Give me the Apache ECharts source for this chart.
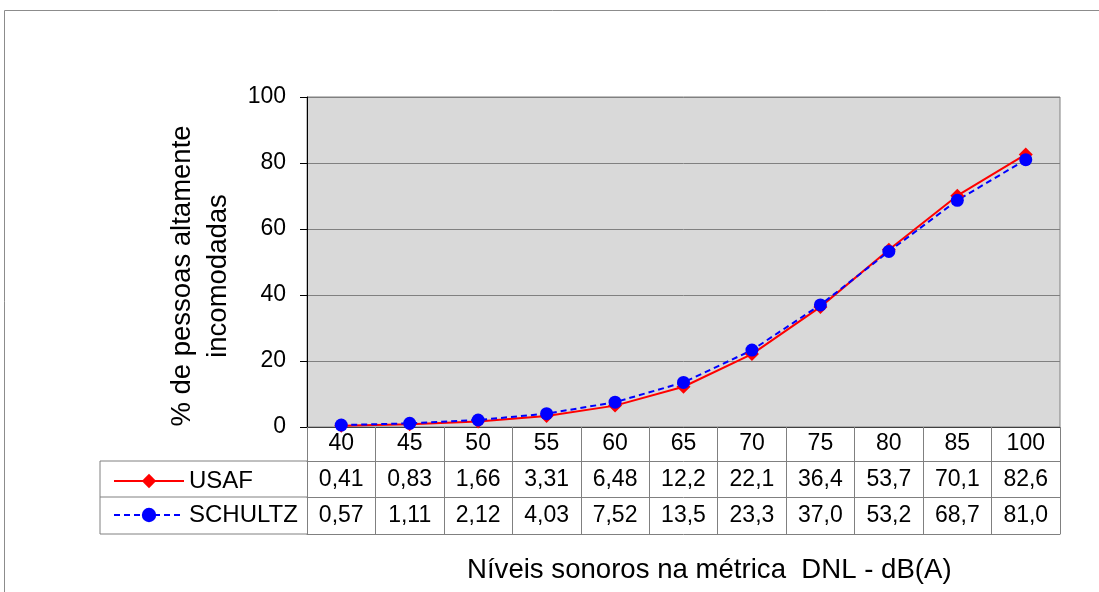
<!DOCTYPE html>
<html><head><meta charset="utf-8">
<script src="https://cdn.jsdelivr.net/npm/echarts@6/dist/echarts.min.js"></script>
<style>html,body{margin:0;padding:0;background:#fff}#c{width:1099px;height:592px}</style>
</head><body><div id="c"></div>
<script>
const categories = ['40','45','50','55','60','65','70','75','80','85','100'];
const usaf = [0.41,0.83,1.66,3.31,6.48,12.2,22.1,36.4,53.7,70.1,82.6];
const schultz = [0.57,1.11,2.12,4.03,7.52,13.5,23.3,37.0,53.2,68.7,81.0];
const yTicks = [0,20,40,60,80,100];

const FONT = '"Liberation Sans", Arial, sans-serif';
const fmt = v => (v < 10 ? v.toFixed(2) : v.toFixed(1)).replace('.', ',');

const L = 307, R = 1060, T = 97, B = 427;
const rows = [34, 70, 107];
const FS = 23;
const chart = echarts.init(document.getElementById('c'));

function tableAxis(offset, arr) {
  return {
    type: 'category', data: categories, position: 'bottom', offset: offset,
    axisLine: {show: true, lineStyle: {color: '#808080', width: 1}},
    axisTick: {show: false},
    axisLabel: arr ? {show: true, interval: 0, margin: 7, fontSize: FS, color: '#000', fontFamily: FONT,
      formatter: (v, i) => fmt(arr[i])} : {show: false},
    splitLine: {show: false}
  };
}

chart.setOption({
  animation: false,
  textStyle: {fontFamily: FONT},
  grid: {left: L, right: 1099 - R, top: T, bottom: 592 - B, show: true,
    backgroundColor: '#d9d9d9', borderColor: '#808080', borderWidth: 1},
  title: {text: 'Níveis sonoros na métrica  DNL - dB(A)', left: 462, top: 551,
    textStyle: {fontSize: 27.6, fontWeight: 'normal', color: '#000', fontFamily: FONT}},
  legend: {orient: 'vertical', left: 108, top: 464, itemWidth: 70, itemHeight: 18, itemGap: 10,
    textStyle: {fontSize: 24, color: '#000', fontFamily: FONT, lineHeight: 24},
    data: ['USAF', 'SCHULTZ']},
  xAxis: [
    {type: 'category', data: categories, position: 'bottom',
      axisLine: {show: true, lineStyle: {color: '#404040', width: 1}},
      axisTick: {show: true, interval: 0, length: rows[2], lineStyle: {color: '#808080'}},
      axisLabel: {interval: 0, margin: 5, fontSize: FS, color: '#000', fontFamily: FONT},
      splitLine: {show: false}},
    tableAxis(rows[0], usaf),
    tableAxis(rows[1], schultz),
    tableAxis(rows[2], null)
  ],
  yAxis: {type: 'value', min: yTicks[0], max: yTicks[yTicks.length - 1], interval: 20,
    name: '% de pessoas altamente\nincomodadas', nameLocation: 'middle', nameGap: 58,
    nameTextStyle: {fontSize: 27.5, color: '#000', fontFamily: FONT, lineHeight: 36, align: 'center', padding: [0, 28, 0, 0]},
    axisLine: {show: true, lineStyle: {color: '#000', width: 1}},
    axisTick: {show: true, length: 7, lineStyle: {color: '#000'}},
    axisLabel: {margin: 21, fontSize: FS, color: '#000', fontFamily: FONT},
    splitLine: {show: true, lineStyle: {color: '#808080', width: 1}}},
  series: [
    {name: 'USAF', type: 'line', data: usaf, symbol: 'diamond', symbolSize: 14,
      lineStyle: {color: '#ff0000', width: 2}, itemStyle: {color: '#ff0000'}},
    {name: 'SCHULTZ', type: 'line', data: schultz, symbol: 'circle', symbolSize: 13,
      lineStyle: {color: '#0000ff', width: 2, type: [6, 4]}, itemStyle: {color: '#0000ff'}}
  ],
  graphic: [
    {type: 'rect', shape: {x: 4.5, y: 10.5, width: 1300, height: 700}, style: {fill: 'none', stroke: '#8c8c8c', lineWidth: 1}, silent: true},
    {type: 'line', shape: {x1: 100, y1: B + rows[0], x2: L, y2: B + rows[0]}, style: {stroke: '#808080', lineWidth: 1}},
    {type: 'line', shape: {x1: 100, y1: B + rows[1], x2: L, y2: B + rows[1]}, style: {stroke: '#808080', lineWidth: 1}},
    {type: 'line', shape: {x1: 100, y1: B + rows[2], x2: L, y2: B + rows[2]}, style: {stroke: '#808080', lineWidth: 1}},
    {type: 'line', shape: {x1: 100, y1: B + rows[0], x2: 100, y2: B + rows[2]}, style: {stroke: '#808080', lineWidth: 1}}
  ]
});
</script></body></html>
